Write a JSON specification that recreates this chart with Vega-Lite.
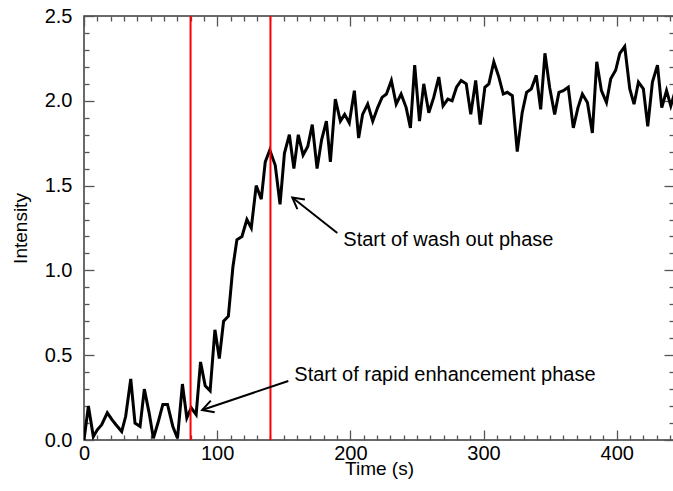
{
  "$schema": "https://vega.github.io/schema/vega-lite/v6.json",
  "width": 590,
  "height": 424,
  "autosize": {"type": "none"},
  "padding": {"left": 84, "top": 16, "right": 0, "bottom": 51},
  "background": "white",
  "config": {
    "view": {"stroke": "#3a3a3a", "strokeWidth": 1.5},
    "font": "Liberation Sans",
    "axis": {"domain": false, "grid": false, "labelFlush": false, "tickColor": "#555555", "tickWidth": 1.3, "labelColor": "black", "titleColor": "black", "labelFont": "Liberation Sans", "titleFont": "Liberation Sans", "labelFontSize": 20, "titleFontSize": 19, "titleFontWeight": "normal"}
  },
  "datasets": {
    "series": [
      {"t": 0, "v": 0}, {"t": 3.3, "v": 0.2}, {"t": 7, "v": 0.02}, {"t": 10, "v": 0.06}, {"t": 13.3, "v": 0.09},
      {"t": 17.5, "v": 0.16}, {"t": 21, "v": 0.12}, {"t": 24, "v": 0.09}, {"t": 28.3, "v": 0.05}, {"t": 31.3, "v": 0.14},
      {"t": 35.1, "v": 0.36}, {"t": 38.3, "v": 0.1}, {"t": 42.1, "v": 0.08}, {"t": 45.3, "v": 0.3}, {"t": 48.9, "v": 0.16},
      {"t": 52.1, "v": 0.01}, {"t": 55.5, "v": 0.1}, {"t": 59.2, "v": 0.21}, {"t": 62.7, "v": 0.21}, {"t": 66.7, "v": 0.08},
      {"t": 70.2, "v": 0.01}, {"t": 73.9, "v": 0.33}, {"t": 77.2, "v": 0.13}, {"t": 80.5, "v": 0.19}, {"t": 84.2, "v": 0.15},
      {"t": 87.5, "v": 0.46}, {"t": 91, "v": 0.32}, {"t": 94.7, "v": 0.29}, {"t": 98.3, "v": 0.65}, {"t": 101.6, "v": 0.48},
      {"t": 104.8, "v": 0.7}, {"t": 108.4, "v": 0.73}, {"t": 111.8, "v": 1.02}, {"t": 114.8, "v": 1.18}, {"t": 118.6, "v": 1.2},
      {"t": 122.3, "v": 1.3}, {"t": 125.6, "v": 1.25}, {"t": 129.3, "v": 1.5}, {"t": 133.1, "v": 1.42}, {"t": 136.1, "v": 1.64},
      {"t": 139.5, "v": 1.71}, {"t": 143.6, "v": 1.62}, {"t": 147.2, "v": 1.39}, {"t": 150.5, "v": 1.69}, {"t": 154.2, "v": 1.8},
      {"t": 157.6, "v": 1.6}, {"t": 160.9, "v": 1.8}, {"t": 164.5, "v": 1.68}, {"t": 168, "v": 1.73}, {"t": 171.4, "v": 1.86},
      {"t": 175, "v": 1.6}, {"t": 178.4, "v": 1.77}, {"t": 182, "v": 1.88}, {"t": 185, "v": 1.64}, {"t": 188.7, "v": 2.01},
      {"t": 192.5, "v": 1.88}, {"t": 195.7, "v": 1.92}, {"t": 199.2, "v": 1.87}, {"t": 203, "v": 2.06}, {"t": 206.2, "v": 1.78},
      {"t": 209.2, "v": 1.92}, {"t": 213, "v": 1.98}, {"t": 216.8, "v": 1.88}, {"t": 220.5, "v": 1.96}, {"t": 223.8, "v": 2.02},
      {"t": 227.1, "v": 2.04}, {"t": 230.8, "v": 2.12}, {"t": 234.4, "v": 1.98}, {"t": 238.1, "v": 2.04}, {"t": 241.9, "v": 1.96},
      {"t": 245.1, "v": 1.84}, {"t": 248.3, "v": 2.21}, {"t": 251.9, "v": 1.88}, {"t": 255.1, "v": 2.1}, {"t": 258.9, "v": 1.93},
      {"t": 262.6, "v": 2.02}, {"t": 266.4, "v": 2.14}, {"t": 269.6, "v": 1.97}, {"t": 273.2, "v": 2.01}, {"t": 276.4, "v": 2.0},
      {"t": 279.7, "v": 2.08}, {"t": 283.2, "v": 2.12}, {"t": 287, "v": 2.1}, {"t": 290.4, "v": 1.92}, {"t": 294.1, "v": 2.12},
      {"t": 297.5, "v": 1.86}, {"t": 301, "v": 2.08}, {"t": 304, "v": 2.1}, {"t": 307.7, "v": 2.23}, {"t": 311.5, "v": 2.14},
      {"t": 314.8, "v": 2.04}, {"t": 317.8, "v": 2.05}, {"t": 321.6, "v": 2.03}, {"t": 325.3, "v": 1.7}, {"t": 329, "v": 1.93},
      {"t": 332.3, "v": 2.05}, {"t": 335.8, "v": 2.07}, {"t": 339.6, "v": 2.15}, {"t": 342.9, "v": 1.95}, {"t": 346.1, "v": 2.28},
      {"t": 349.6, "v": 2.08}, {"t": 353.4, "v": 1.92}, {"t": 356.6, "v": 2.05}, {"t": 359.9, "v": 2.06}, {"t": 363.6, "v": 2.08},
      {"t": 367.4, "v": 1.84}, {"t": 370.9, "v": 1.96}, {"t": 374.2, "v": 2.04}, {"t": 378, "v": 1.99}, {"t": 381.7, "v": 1.81},
      {"t": 385, "v": 2.23}, {"t": 388.5, "v": 2.06}, {"t": 392.3, "v": 1.99}, {"t": 395.5, "v": 2.13}, {"t": 399.2, "v": 2.18},
      {"t": 402.3, "v": 2.28}, {"t": 406, "v": 2.32}, {"t": 409.8, "v": 2.07}, {"t": 413, "v": 1.98}, {"t": 416.3, "v": 2.11},
      {"t": 420, "v": 2.07}, {"t": 423.3, "v": 1.85}, {"t": 426.8, "v": 2.11}, {"t": 430.6, "v": 2.21}, {"t": 433.8, "v": 1.96},
      {"t": 437.4, "v": 2.06}, {"t": 440.6, "v": 1.97}, {"t": 444, "v": 2.06}
    ],
    "phases": [{"t": 80}, {"t": 140}],
    "arrows": [
      {"t1": 190.2, "v1": 1.22, "t2": 156.4, "v2": 1.43, "angle": 217.9},
      {"t1": 153.4, "v1": 0.348, "t2": 88.7, "v2": 0.177, "angle": 161.4}
    ],
    "labels": [
      {"t": 194.7, "v": 1.18, "text": "Start of wash out phase"},
      {"t": 157.9, "v": 0.383, "text": "Start of rapid enhancement phase"}
    ]
  },
  "resolve": {"axis": {"x": "independent", "y": "independent"}},
  "layer": [
    {
      "data": {"name": "series"},
      "mark": {"type": "line", "color": "black", "strokeWidth": 3, "clip": true, "strokeJoin": "miter"},
      "encoding": {
        "x": {"field": "t", "type": "quantitative", "scale": {"domain": [0, 443], "nice": false, "zero": false},
          "axis": {"orient": "bottom", "values": [0, 100, 200, 300, 400], "tickSize": -10, "labelPadding": 13, "title": "Time (s)", "titlePadding": -4}},
        "y": {"field": "v", "type": "quantitative", "scale": {"domain": [0, 2.5], "nice": false},
          "axis": {"orient": "left", "values": [0, 0.5, 1, 1.5, 2, 2.5], "format": ".1f", "tickSize": -10, "labelPadding": 22, "title": "Intensity", "titlePadding": 14}}
      }
    },
    {
      "data": {"name": "phases"},
      "mark": {"type": "rule", "color": "#ff0000", "strokeWidth": 2},
      "encoding": {
        "x": {"field": "t", "type": "quantitative", "scale": {"domain": [0, 443], "nice": false, "zero": false},
          "axis": {"orient": "bottom", "values": [10, 20, 30, 40, 50, 60, 70, 80, 90, 110, 120, 130, 140, 150, 160, 170, 180, 190, 210, 220, 230, 240, 250, 260, 270, 280, 290, 310, 320, 330, 340, 350, 360, 370, 380, 390, 410, 420, 430, 440], "tickSize": -5, "labels": false, "title": null}},
        "y": {"datum": 0, "type": "quantitative", "scale": {"domain": [0, 2.5], "nice": false},
          "axis": {"orient": "left", "values": [0.1, 0.2, 0.3, 0.4, 0.6, 0.7, 0.8, 0.9, 1.1, 1.2, 1.3, 1.4, 1.6, 1.7, 1.8, 1.9, 2.1, 2.2, 2.3, 2.4], "tickSize": -5, "labels": false, "title": null}},
        "y2": {"datum": 2.5}
      }
    },
    {
      "data": {"name": "arrows"},
      "mark": {"type": "rule", "color": "black", "strokeWidth": 2},
      "encoding": {
        "x": {"field": "t1", "type": "quantitative", "scale": {"domain": [0, 443], "nice": false, "zero": false},
          "axis": {"orient": "top", "values": [0, 100, 200, 300, 400], "tickSize": -10, "labels": false, "title": null}},
        "y": {"field": "v1", "type": "quantitative", "scale": {"domain": [0, 2.5], "nice": false},
          "axis": {"orient": "right", "values": [0, 0.5, 1, 1.5, 2, 2.5], "tickSize": -10, "labels": false, "title": null}},
        "x2": {"field": "t2"},
        "y2": {"field": "v2"}
      }
    },
    {
      "data": {"name": "arrows"},
      "mark": {"type": "point", "shape": "M-1,-0.55L0,0L-1,0.55", "filled": false, "stroke": "black", "strokeWidth": 2, "opacity": 1, "size": 500},
      "encoding": {
        "x": {"field": "t2", "type": "quantitative", "scale": {"domain": [0, 443], "nice": false, "zero": false},
          "axis": {"orient": "top", "values": [10, 20, 30, 40, 50, 60, 70, 80, 90, 110, 120, 130, 140, 150, 160, 170, 180, 190, 210, 220, 230, 240, 250, 260, 270, 280, 290, 310, 320, 330, 340, 350, 360, 370, 380, 390, 410, 420, 430, 440], "tickSize": -5, "labels": false, "title": null}},
        "y": {"field": "v2", "type": "quantitative", "scale": {"domain": [0, 2.5], "nice": false},
          "axis": {"orient": "right", "values": [0.1, 0.2, 0.3, 0.4, 0.6, 0.7, 0.8, 0.9, 1.1, 1.2, 1.3, 1.4, 1.6, 1.7, 1.8, 1.9, 2.1, 2.2, 2.3, 2.4], "tickSize": -5, "labels": false, "title": null}},
        "angle": {"field": "angle", "type": "quantitative", "scale": null}
      }
    },
    {
      "data": {"name": "labels"},
      "mark": {"type": "text", "align": "left", "baseline": "middle", "fontSize": 20, "font": "Liberation Sans", "color": "black"},
      "encoding": {
        "x": {"field": "t", "type": "quantitative", "scale": {"domain": [0, 443], "nice": false, "zero": false}, "axis": null},
        "y": {"field": "v", "type": "quantitative", "scale": {"domain": [0, 2.5], "nice": false}, "axis": null},
        "text": {"field": "text"}
      }
    }
  ]
}
